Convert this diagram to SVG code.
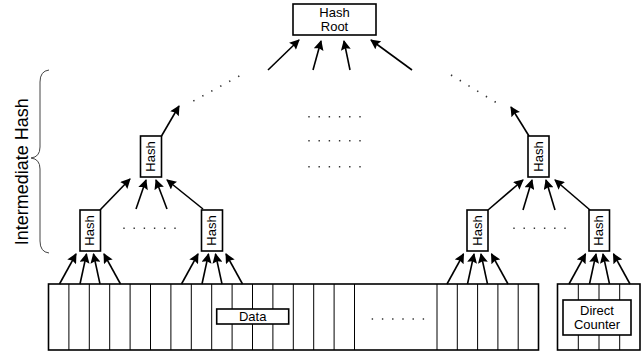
<svg xmlns="http://www.w3.org/2000/svg" width="642" height="355" viewBox="0 0 642 355">
<defs>
<marker id="ah" viewBox="0 0 10 10" refX="9" refY="5" markerWidth="11" markerHeight="10" markerUnits="userSpaceOnUse" orient="auto">
<path d="M0,0 L10,5 L0,10 L1.5,5 z" fill="#000"/>
</marker>
</defs>
<style>
.box{fill:#fff;stroke:#000;stroke-width:1.6}
.cell{stroke:#000;stroke-width:1;fill:none}
.t{font-family:"Liberation Sans",Arial,sans-serif;font-size:13px;fill:#000;text-anchor:middle}
.big{font-family:"Liberation Sans",Arial,sans-serif;font-size:18px;fill:#000;text-anchor:middle}
.arr{stroke:#000;stroke-width:1.6;fill:none;marker-end:url(#ah)}
.dots{stroke:#333;stroke-width:1.6;fill:none;stroke-dasharray:1.4 8.8}
</style>
<rect width="642" height="355" fill="#fff"/>

<g id="brace-label">
<path d="M49,70 Q40,71 40,82 L40,147 Q40,157 31,158 Q40,159 40,169 L40,241 Q40,252 49,253" fill="none" stroke="#444" stroke-width="1"/>
<text class="big" transform="translate(28,171.7) rotate(-90)">Intermediate Hash</text>
</g>

<g id="root">
<rect class="box" x="293" y="4" width="83" height="31"/>
<text class="t" x="334.5" y="16.7">Hash</text>
<text class="t" x="334.5" y="30.5">Root</text>
</g>

<g id="hash-l2-left">
<rect class="box" x="140.5" y="136" width="21" height="41"/>
<text class="t" transform="translate(155,156.5) rotate(-90)">Hash</text>
</g>
<g id="hash-l2-right">
<rect class="box" x="528" y="136" width="21" height="41"/>
<text class="t" transform="translate(542.5,156.5) rotate(-90)">Hash</text>
</g>

<g id="hash-l1-a">
<rect class="box" x="80" y="210" width="20.5" height="41"/>
<text class="t" transform="translate(94.2,230.5) rotate(-90)">Hash</text>
</g>
<g id="hash-l1-b">
<rect class="box" x="201.5" y="210" width="21" height="41"/>
<text class="t" transform="translate(216,230.5) rotate(-90)">Hash</text>
</g>
<g id="hash-l1-c">
<rect class="box" x="467" y="210" width="21" height="41"/>
<text class="t" transform="translate(481.5,230.5) rotate(-90)">Hash</text>
</g>
<g id="hash-l1-d">
<rect class="box" x="589" y="210" width="20.5" height="41"/>
<text class="t" transform="translate(603.3,230.5) rotate(-90)">Hash</text>
</g>

<g id="data-block">
<rect class="box" x="48.5" y="284" width="490" height="66"/>
<path class="cell" d="M68.9,284V350 M89.3,284V350 M109.7,284V350 M130.1,284V350 M150.5,284V350 M170.9,284V350 M191.3,284V350 M211.7,284V350 M232.1,284V350 M252.5,284V350 M272.9,284V350 M293.3,284V350 M313.7,284V350 M334.1,284V350 M354.5,284V350 M437,284V350 M457.3,284V350 M477.6,284V350 M497.9,284V350 M518.2,284V350"/>
<path class="dots" d="M371.7,319H425"/>
<rect class="box" x="216.7" y="309" width="72" height="15"/>
<text class="t" x="252.7" y="321">Data</text>
</g>

<g id="direct-counter">
<rect class="box" x="557.5" y="284" width="82.5" height="66"/>
<path class="cell" d="M578.3,284V350 M599,284V350 M619.7,284V350"/>
<rect class="box" x="563" y="300" width="68" height="35"/>
<text class="t" x="597" y="315">Direct</text>
<text class="t" x="597" y="328.5">Counter</text>
</g>

<g id="ellipses">
<path class="dots" d="M193.3,101 L242,74.5"/>
<path class="dots" d="M451,75 L497,103"/>
<path class="dots" d="M308.3,116.7H362 M308.3,140.7H362 M308.3,166.7H362"/>
<path class="dots" d="M123.3,228.3H177 M513.3,228.3H567"/>
</g>

<g id="connectors">
<path class="arr" d="M268,70L299,40"/>
<path class="arr" d="M313,70L321,41"/>
<path class="arr" d="M350,70L344,41"/>
<path class="arr" d="M412,70L371,40"/>

<path class="arr" d="M161.5,136L179,106"/>
<path class="arr" d="M529,136L511,107"/>

<path class="arr" d="M100,210L130,179"/>
<path class="arr" d="M136,209L146,180"/>
<path class="arr" d="M167,209L156,180"/>
<path class="arr" d="M203,209L167,180"/>

<path class="arr" d="M488,210L523,180"/>
<path class="arr" d="M523,210L532,180"/>
<path class="arr" d="M555,210L546,180"/>
<path class="arr" d="M590,210L555,180"/>

<path class="arr" d="M59.5,284L76,254"/>
<path class="arr" d="M80,284L86.5,254"/>
<path class="arr" d="M100,284L93.5,254"/>
<path class="arr" d="M120.5,284L104,254"/>

<path class="arr" d="M181.5,284L198,254"/>
<path class="arr" d="M202,284L208.5,254"/>
<path class="arr" d="M222,284L215.5,254"/>
<path class="arr" d="M242.5,284L226,254"/>

<path class="arr" d="M447,284L463.5,254"/>
<path class="arr" d="M467.5,284L474,254"/>
<path class="arr" d="M487.5,284L481,254"/>
<path class="arr" d="M508,284L491.5,254"/>

<path class="arr" d="M569,284L585.5,254"/>
<path class="arr" d="M589.5,284L596,254"/>
<path class="arr" d="M609.5,284L603,254"/>
<path class="arr" d="M630,284L613.5,254"/>
</g>
</svg>
